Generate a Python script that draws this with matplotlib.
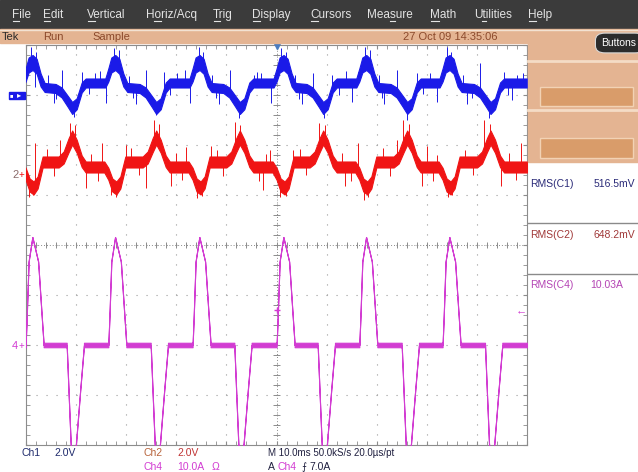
import numpy as np
import matplotlib.pyplot as plt
from matplotlib import font_manager
from matplotlib.font_manager import FontProperties
from matplotlib.patches import Rectangle, FancyBboxPatch
from matplotlib.textpath import TextPath
from matplotlib.ticker import MultipleLocator

names = {f.name for f in font_manager.fontManager.ttflist}
narrow = "Liberation Sans Narrow" if "Liberation Sans Narrow" in names else "Liberation Sans"
plt.rcParams["font.family"] = [narrow, "DejaVu Sans"]

W, H = 638, 472

# scope settings (per division) and ground marker positions (divisions from centre)
ch1_scale, ch2_scale, ch4_scale = 2.0, 2.0, 10.0
ch1_zero, ch2_zero, ch4_zero = 3.0, 1.4, -2.0
trig_level = 7.0

# times (ms) where the Ch4 current pulses leave zero
pos_start = [-0.08, 16.43, 33.25, 50.02, 66.53, 83.15]
neg_start = [8.12, 24.89, 41.58, 58.22, 74.99, 91.62]

# Ch4 pulse shapes (ms offset, A, noise half width A)
pos_t = [0, 0, 0.2, 0.6, 1.35, 2.5, 3.2, 3.6, 3.6]
pos_a = [0, 0, 5.0, 16.7, 21.6, 16.7, 6.0, 0, 0]
neg_t = [0, 0, 0.4, 0.8, 1.3, 1.85, 2.7, 3.45, 3.45]
neg_a = [0, 0, -10.0, -19.8, -23.0, -19.8, -9.0, 0, 0]
pulse_w = [0.45, 0, 0, 0, 0, 0, 0, 0, 0.45]

# Ch1 around each positive / negative pulse (ms offset, V, band half width V)
c1_hump_t = [-0.6, 0.0, 0.6, 1.4, 2.2, 3.0, 3.8]
c1_hump_v = [0.48, 0.8, 1.2, 1.3, 1.15, 0.6, 0.3]
c1_hump_w = [0.18, 0.26, 0.3, 0.3, 0.3, 0.26, 0.18]
c1_dip_t = [-2.2, -1.0, 0.2, 1.1, 2.0, 3.0, 3.8]
c1_dip_v = [0.26, 0.1, -0.25, -0.52, -0.35, 0.3, 0.48]
c1_dip_w = [0.18, 0.2, 0.22, 0.24, 0.22, 0.2, 0.18]

# Ch2 around each positive / negative pulse
c2_dip_t = [-0.8, 0.0, 0.8, 1.6, 2.4, 3.4]
c2_dip_v = [0.32, 0.05, -0.4, -0.52, -0.3, 0.52]
c2_dip_w = [0.22, 0.24, 0.26, 0.26, 0.24, 0.22]
c2_peak_t = [-1.6, -0.6, 0.4, 1.1, 2.0, 3.0, 3.8]
c2_peak_v = [0.52, 0.7, 1.2, 1.5, 1.15, 0.55, 0.32]
c2_peak_w = [0.22, 0.24, 0.28, 0.28, 0.26, 0.23, 0.22]

# noise spikes (ms, extreme value)
c1_spike_t = [0.9, 2.0, 7.2, 11.2, 13.8, 17.6, 18.6, 24.0, 27.5, 31.7, 34.6, 35.4, 40.7, 45.5,
              47.0, 50.8, 51.8, 57.3, 61.0, 66.3, 67.6, 68.6, 74.0, 78.0, 84.0, 84.8, 90.6, 95.5,
              98.0, 1.8, 5.5, 9.5, 16.0, 22.0, 26.0, 32.7, 38.5, 42.5, 49.0, 55.0, 59.5, 65.0,
              71.5, 76.0, 82.0, 88.0, 92.5, 97.0,
              4.4, 6.0, 12.5, 14.8, 20.5, 21.3, 28.8, 30.2, 37.2, 38.0, 44.3, 46.2, 53.7, 54.5,
              62.5, 63.8, 70.4, 71.0, 79.3, 80.6, 87.2, 89.0, 96.3, 99.2]
c1_spike_v = [1.92, 1.72, 1.0, 0.92, 0.88, 1.88, 1.8, 1.0, 0.92, 1.0, 1.92, 1.72, 1.0, 0.8,
              0.88, 1.88, 1.72, 0.88, 0.8, 0.92, 1.92, 1.8, 1.0, 0.88, 1.92, 1.72, 1.28, 0.92,
              0.8, 0.32, -0.32, -0.88, -0.32, -0.36, -0.8, -0.32, -0.36, -0.92, -0.32, -0.36,
              -0.92, -0.28, -0.36, -1.0, -0.28, -0.36, -0.92, -0.2,
              0.8, -0.15, 0.05, 0.95, 0.78, -0.1, 0.0, 0.9, 0.82, -0.12, 0.02, 0.92, 0.8, -0.14,
              0.0, 0.96, 0.8, -0.1, 0.05, 0.9, 0.8, -0.1, 0.02, 0.9]
c2_spike_t = [1.8, 6.8, 8.8, 9.8, 15.2, 20.0, 25.6, 26.6, 32.0, 37.0, 41.8, 42.8, 48.8, 53.3,
              58.5, 59.6, 66.3, 74.0, 75.3, 76.4, 80.0, 91.4, 92.6, 98.9, 0.6, 1.4, 12.0, 17.0,
              18.0, 24.0, 29.0, 34.2, 35.2, 47.3, 50.6, 51.8, 63.7, 67.4, 68.2, 79.0, 84.2,
              85.0, 94.8,
              4.2, 5.6, 13.0, 14.4, 21.0, 22.5, 30.0, 31.2, 38.2, 39.4, 46.5, 48.0, 54.6, 55.8,
              63.0, 64.8, 71.2, 72.6, 81.2, 82.0, 87.6, 89.2, 96.4, 97.8]
c2_spike_v = [1.28, 1.4, 2.08, 2.0, 1.28, 1.2, 2.2, 2.04, 1.12, 1.16, 2.12, 2.0, 1.0, 1.0,
              2.08, 2.0, 1.28, 1.4, 2.2, 2.04, 1.16, 2.2, 2.04, 1.28, -0.88, -0.8, -0.52, -0.8,
              -0.88, -0.52, -0.44, -0.92, -0.84, -0.6, -0.88, -0.84, -0.44, -1.0, -0.88, -0.44,
              -0.88, -0.8, -0.44,
              1.05, -0.05, 0.85, -0.25, 1.1, 0.0, 0.9, -0.2, 1.0, -0.05, -0.25, 0.85, 1.05, 0.0,
              0.9, -0.22, 1.1, -0.02, -0.25, 0.82, 1.0, 0.0, 0.9, -0.2]

meas_names = ["RMS(C1)", "RMS(C2)", "RMS(C4)"]
meas_values = ["516.5mV", "648.2mV", "10.03A"]
menu_items = ["File", "Edit", "Vertical", "Horiz/Acq", "Trig", "Display", "Cursors",
              "Measure", "Math", "Utilities", "Help"]
menu_hotkey = [0, 0, 0, 1, 0, 0, 0, 3, 0, 1, 0]

BLUE, RED, MAG = "#1a1ae8", "#f01414", "#d23cd2"


def assemble(parts, end):
    t, v, w = [], [], []
    for t0, st, sv, sw in sorted(parts, key=lambda p: p[0]):
        t += [t0 + s for s in st]
        v += list(sv)
        w += list(sw)
    t.append(end[0]); v.append(end[1]); w.append(end[2])
    return np.array(t), np.array(v), np.array(w)


ch4 = assemble([(p, pos_t, pos_a, pulse_w) for p in pos_start] +
               [(n, neg_t, neg_a, pulse_w) for n in neg_start], (100, 0, 0.45))
ch1 = assemble([(p, c1_hump_t, c1_hump_v, c1_hump_w) for p in pos_start] +
               [(n, c1_dip_t, c1_dip_v, c1_dip_w) for n in neg_start], (100, 0.48, 0.18))
ch2 = assemble([(p, c2_dip_t, c2_dip_v, c2_dip_w) for p in pos_start] +
               [(n, c2_peak_t, c2_peak_v, c2_peak_w) for n in neg_start], (100, 0.32, 0.22))

fig = plt.figure(figsize=(W / 100, H / 100), dpi=100, facecolor="white")


def ftext(x, y, s, **kw):
    kw.setdefault("va", "center")
    kw.setdefault("fontsize", 8)
    fig.text(x / W, 1 - y / H, s, **kw)


def frect(x0, y0, x1, y1, **kw):
    fig.patches.append(Rectangle((x0 / W, 1 - y1 / H), (x1 - x0) / W, (y1 - y0) / H,
                                 transform=fig.transFigure, **kw))


def fline(x0, y0, x1, y1, **kw):
    fig.add_artist(plt.Line2D([x0 / W, x1 / W], [1 - y0 / H, 1 - y1 / H],
                              transform=fig.transFigure, **kw))


def text_px(s, size):
    if not s:
        return 0.0
    return TextPath((0, 0), s, size=size, prop=FontProperties(family=narrow)).get_extents().x1 * 100 / 72


# menu bar and status bar
frect(0, 0, W, 29, color="#3b3b3b")
menu_x = [12, 43, 87, 146, 213, 252, 310, 367, 430, 474, 528]
for x, s, k in zip(menu_x, menu_items, menu_hotkey):
    ftext(x, 15, s, color="#e4e4e4", fontsize=8.5)
    a = x + text_px(s[:k], 8.5)
    b = x + text_px(s[:k + 1], 8.5)
    fline(a + 0.5, 21, b, 21, color="#e4e4e4", lw=0.8)
frect(0, 29, W, 43, color="#e4b492")
fline(0, 29.5, W, 29.5, color="#f3e2d2", lw=1)
ftext(2, 36.5, "Tek", color="#2a2a2a", fontsize=8)
ftext(43, 36.5, "Run", color="#8c4a2c", fontsize=8)
ftext(92, 36.5, "Sample", color="#8c4a2c", fontsize=8)
ftext(403, 36.5, "27 Oct 09 14:35:06", color="#8c4a2c", fontsize=8)

# right hand panel
frect(528, 43, W, 162, color="#e4b492")
fline(528, 61, W, 61, color="#f4dcc6", lw=2)
fline(528, 110, W, 110, color="#f4dcc6", lw=2)
for y0, y1 in [(87, 106), (138, 158)]:
    frect(540, y0, 633, y1, facecolor="#d99c6a", edgecolor="#f2d2b4", lw=1)
fig.patches.append(FancyBboxPatch((598 / W, 1 - 51 / H), 44 / W, 16 / H,
                                  boxstyle="round,pad=0.004,rounding_size=0.015",
                                  transform=fig.transFigure, facecolor="#2c2c2c",
                                  edgecolor="#d8d8d8", lw=0.8))
ftext(601, 43, "Buttons", color="white", fontsize=7.5)

meas_col = ["#2a2a78", "#a03838", "#b444b4"]
meas_right = [635, 635, 623]
for i, (nm, val, c, vx) in enumerate(zip(meas_names, meas_values, meas_col, meas_right)):
    y = 184 + i * 50.5
    ftext(530, y, nm, color=c, fontsize=7.5)
    ftext(vx, y, val, color=c, fontsize=7.5, ha="right")
for y in (223, 274):
    fline(528, y, W, y, color="#8a8a8a", lw=1)

# graticule
ax = fig.add_axes([26 / W, 1 - 445 / H, 501 / W, 400 / H])
ax.set_xlim(0, 100)
ax.set_ylim(-4, 4)
for s in ax.spines.values():
    s.set_color("#8c8c8c")
ax.xaxis.set_major_locator(MultipleLocator(10))
ax.xaxis.set_minor_locator(MultipleLocator(2))
ax.yaxis.set_major_locator(MultipleLocator(1))
ax.yaxis.set_minor_locator(MultipleLocator(0.2))
ax.tick_params(which="both", direction="in", length=3, color="#8c8c8c",
               top=True, right=True, labelbottom=False, labelleft=False)
ax.grid(which="major", color="#9a9a9a", lw=0.8, ls=(0, (1, 8)))
ax.axhline(0, color="#8c8c8c", lw=0.7, ls=(0, (1, 2)))
ax.axvline(50, color="#8c8c8c", lw=0.7, ls=(0, (1, 2)))
ax.vlines(np.arange(0, 101, 2), -0.06, 0.06, color="#8c8c8c", lw=0.7)
ax.hlines(np.arange(-4, 4.01, 0.2), 49.4, 50.6, color="#8c8c8c", lw=0.7)

# traces
traces = [(ch1, ch1_scale, ch1_zero, BLUE, c1_spike_t, c1_spike_v),
          (ch2, ch2_scale, ch2_zero, RED, c2_spike_t, c2_spike_v),
          (ch4, ch4_scale, ch4_zero, MAG, [], [])]
for (t, v, w), scale, zero, col, sp_t, sp_v in traces:
    ax.fill_between(t, (v - w) / scale + zero, (v + w) / scale + zero,
                    facecolor=col, edgecolor=col, lw=0.8, zorder=3)
    if sp_t:
        base = np.interp(sp_t, t, v) / scale + zero
        ax.vlines(sp_t, base, np.array(sp_v) / scale + zero, color=col, lw=0.7, zorder=3)

# trigger markers
trig_div = trig_level / ch4_scale + ch4_zero
ax.plot([50], [4.0], marker="v", ms=6, color="#4a7cc0", clip_on=False, zorder=5)
ax.plot([50], [trig_div], marker="+", ms=5, color=MAG, zorder=5)
ax.text(98.8, trig_div, "\u2190", color=MAG, fontsize=8, ha="center", va="center", zorder=5)

# channel ground markers
frect(9, 92, 25, 99, color=BLUE)
ftext(10, 95.5, "\u25a0", color="white", fontsize=4)
ftext(17, 95.5, "\u25b8", color="white", fontsize=6)
ftext(12, 175, "2", color="#8a6a6a", fontsize=8)
ftext(19, 175, "+", color=RED, fontsize=7)
ftext(12, 346, "4", color=MAG, fontsize=8)
ftext(19, 346, "+", color=MAG, fontsize=7)

# bottom readout
NAVY = "#1e2a6c"
ftext(21, 453, "Ch1", color=NAVY, fontsize=7.5)
ftext(54, 453, "2.0V", color=NAVY, fontsize=7.5)
ftext(144, 453, "Ch2", color="#b8643c", fontsize=7.5)
ftext(177, 453, "2.0V", color="#c03434", fontsize=7.5)
ftext(144, 467, "Ch4", color=MAG, fontsize=7.5)
ftext(177, 467, "10.0A", color=MAG, fontsize=7.5)
ftext(212, 467, "\u03a9", color=MAG, fontsize=7.5)
ftext(268, 453, "M 10.0ms 50.0kS/s 20.0\u00b5s/pt", color="#202040", fontsize=7)
ftext(268, 467, "A", color="#202040", fontsize=7.5)
ftext(278, 467, "Ch4", color=MAG, fontsize=7.5)
ftext(301, 467, "\u2a0d", color="#202040", fontsize=7, family=["DejaVu Sans"])
ftext(309, 467, "7.0A", color="#202040", fontsize=7.5)

fig.savefig("out.png", dpi=100)
